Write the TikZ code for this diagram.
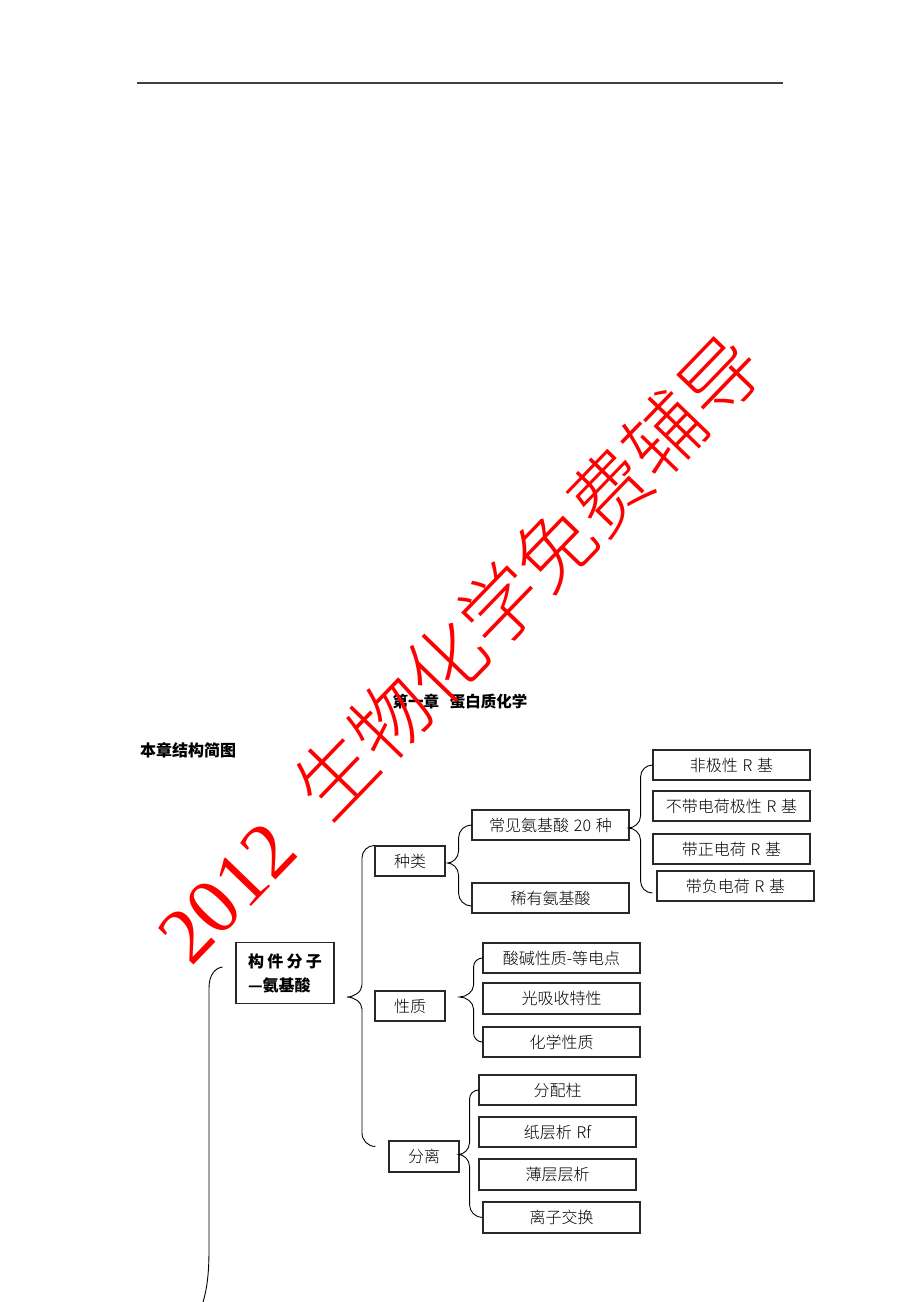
\documentclass[tikz,border=0pt]{standalone}
\usepackage{fontspec}
\setmainfont{Noto Sans CJK SC}
\newfontfamily\wmserif{Liberation Serif}
\newfontfamily\cjklight{Noto Sans CJK SC Light}
\usetikzlibrary{calc}
\definecolor{wmred}{RGB}{255,0,0}
\definecolor{boxline}{RGB}{40,40,40}
\tikzset{
  boxnode/.style={draw=boxline, line width=1.1pt, minimum width=157pt, minimum height=30pt,
    inner sep=0pt, text height=1.2em, text depth=0pt, font=\cjklight\fontsize{16}{16}\selectfont},
  smallbox/.style={boxnode, minimum width=70pt},
  bracepath/.style={draw=black, line width=0.9pt},
  headtext/.style={inner sep=0pt, font=\bfseries\fontsize{15.5}{15.5}\selectfont},
}
\newcommand\hs{\hspace{0.3em}}
% #1 tip, #2 top end, #3 bottom end, #4 horizontal offset of the stem from the tip (pt)
\newcommand\brc[4]{%
\path[bracepath] let \p1=(#1), \p2=(#2), \p3=(#3) in
 (\p2) .. controls ({\x1+#4pt+0.45*(\x2-\x1-#4pt)},\y2) and ({\x1+#4pt},{\y2-0.45*(\x2-\x1-#4pt)}) .. ({\x1+#4pt},{\y2-(\x2-\x1-#4pt)})
 -- ({\x1+#4pt},{\y1+12pt}) .. controls ({\x1+#4pt},{\y1+5pt}) and ({\x1+0.45*#4pt},\y1) .. (\p1)
 .. controls ({\x1+0.45*#4pt},\y1) and ({\x1+#4pt},{\y1-5pt}) .. ({\x1+#4pt},{\y1-12pt})
 -- ({\x1+#4pt},{\y3+(\x3-\x1-#4pt)}) .. controls ({\x1+#4pt},{\y3+0.45*(\x3-\x1-#4pt)}) and ({\x1+#4pt+0.45*(\x3-\x1-#4pt)},\y3) .. (\p3);
}
\begin{document}
\begin{tikzpicture}[x=1pt,y=-1pt]
\useasboundingbox (0,0) rectangle (920,1302);
\fill[white] (0,0) rectangle (920,1302);

% top rule
\coordinate (rl) at (137,83);
\coordinate (rr) at (783,83);
\draw[line width=1.3pt, draw=black!75] (rl) -- (rr);

% headings
\node[headtext] (title) at (460,702) {第一章\hspace{11pt}蛋白质化学};
\node[headtext, anchor=west, font=\bfseries\fontsize{16}{16}\selectfont] (head) at (140,750) {本章结构简图};

% main box
\node[draw=boxline, line width=1.1pt, minimum width=98pt, minimum height=61pt, inner sep=0pt,
  align=left, font=\bfseries\fontsize{16}{24}\selectfont] (gj) at (285,973)
  {构\hspace{3.3pt}件\hspace{3.3pt}分\hspace{3.3pt}子\\—氨基酸};

% level 1
\node[smallbox] (kind) at (410,861) {种类};
\node[smallbox] (prop) at (410,1006) {性质};
\node[smallbox, minimum height=31pt] (sep) at (424,1156.5) {分离};

% kinds
\node[boxnode] (cj) at (550.5,825) {常见氨基酸\hs 20\hs 种};
\node[boxnode] (rare) at (550.5,898) {稀有氨基酸};
\node[boxnode] (nonpolar) at (731.5,765) {非极性\hs R\hs 基};
\node[boxnode] (polar) at (731.5,806) {不带电荷极性\hs R\hs 基};
\node[boxnode] (pos) at (731.5,849) {带正电荷\hs R\hs 基};
\node[boxnode] (neg) at (735.5,886) {带负电荷\hs R\hs 基};

% properties
\node[boxnode] (acid) at (561.5,958) {酸碱性质-等电点};
\node[boxnode, minimum height=31pt] (light) at (561.5,998.5) {光吸收特性};
\node[boxnode] (chem) at (561.5,1042) {化学性质};

% separation
\node[boxnode] (col) at (557.5,1090) {分配柱};
\node[boxnode] (paper) at (557.5,1132) {纸层析\hs Rf};
\node[boxnode, minimum height=31pt] (thin) at (557.5,1174.5) {薄层层析};
\node[boxnode, minimum height=31pt] (ion) at (561.5,1217.5) {离子交换};

% brace tips and free ends
\coordinate (t0) at (347,997);
\coordinate (b0) at ($(sep.north west)+(-13,6)$);
\coordinate (t1) at ($(kind.east)+(2,2)$);
\coordinate (b1) at ($(rare.west)+(0,8)$);
\coordinate (t2) at ($(cj.east)+(-1,3)$);
\coordinate (b2) at ($(neg.west)+(-4,7)$);
\coordinate (t3) at ($(prop.east)+(14,-9)$);
\coordinate (t4) at ($(sep.east)+(-1,-2)$);

\brc{t0}{kind.north west}{b0}{15}
\brc{t1}{cj.west}{b1}{11}
\brc{t2}{nonpolar.west}{b2}{12}
\brc{t3}{acid.west}{chem.west}{14}
\brc{t4}{col.west}{ion.west}{11}

% long left brace (continues off the page)
\coordinate (lt) at ($(gj.west)+(-13,-6)$);
\coordinate (lb) at (203,1302);
\draw[bracepath] (lt) .. controls (215,968) and (209,975) .. (209,988) -- (209,1250)
  .. controls (209,1278) and (206,1292) .. (lb);

% watermark
\node[text=wmred, rotate=46, inner sep=0pt, font=\cjklight\fontsize{79}{79}\selectfont] (wm) at (458,648)
  {{\wmserif 2012}\hspace{41pt}生物化学免费辅导};
\end{tikzpicture}
\end{document}
